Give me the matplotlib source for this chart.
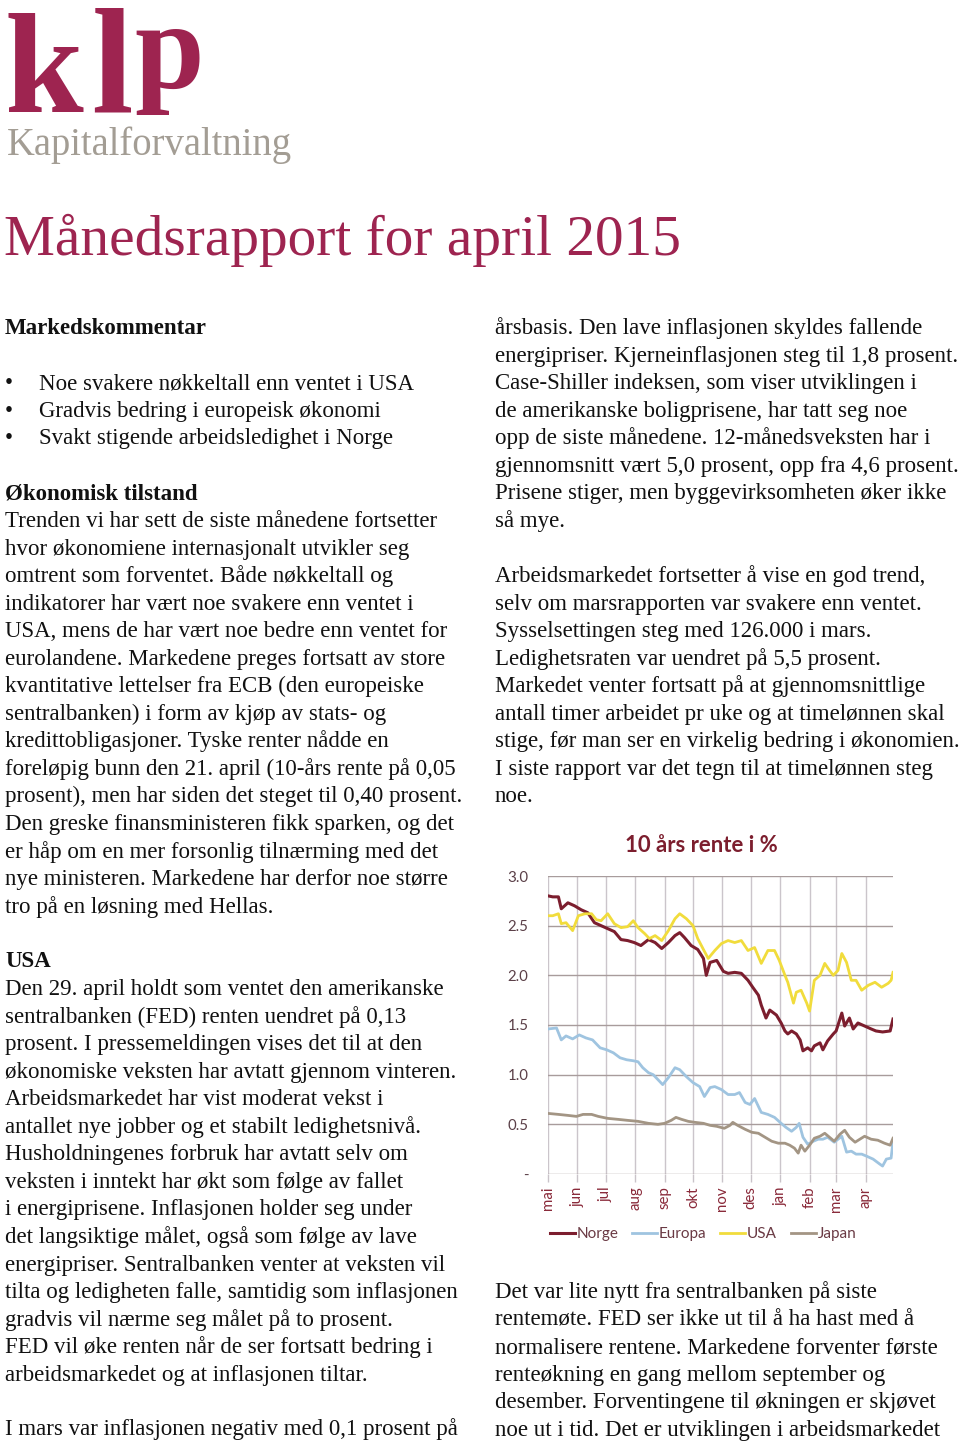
import numpy as np
import pandas as pd
import matplotlib
matplotlib.use("Agg")
import matplotlib.pyplot as plt

# ---- chart data, days counted from 1 May 2014 ----
norge_day = [0, 5, 11, 14, 21, 28, 35, 42, 49, 56, 63, 70, 77, 84, 91, 98, 106, 113, 120, 127,
             134, 139, 144, 151, 158, 164, 167, 171, 178, 185, 190, 197, 204, 211, 216, 222, 225, 230, 234, 241,
             246, 250, 253, 257, 262, 266, 269, 274, 278, 281, 287, 290, 295, 301, 304, 310, 313, 318, 322, 327,
             334, 341, 346, 353, 361, 364]
norge_val = [2.80, 2.79, 2.79, 2.67, 2.73, 2.70, 2.66, 2.63, 2.53, 2.50, 2.47, 2.44, 2.36, 2.35, 2.33, 2.30, 2.36, 2.33, 2.27, 2.33,
             2.40, 2.43, 2.38, 2.30, 2.26, 2.17, 2.00, 2.13, 2.15, 2.04, 2.02, 2.03, 2.02, 1.95, 1.88, 1.80, 1.70, 1.57, 1.65, 1.60,
             1.52, 1.44, 1.41, 1.44, 1.41, 1.35, 1.24, 1.27, 1.24, 1.29, 1.32, 1.25, 1.34, 1.41, 1.44, 1.62, 1.49, 1.57, 1.46, 1.52,
             1.49, 1.46, 1.44, 1.43, 1.44, 1.56]

europa_day = [0, 9, 14, 19, 26, 33, 40, 47, 55, 62, 69, 76, 83, 90, 95, 100, 106, 111, 116, 121,
              127, 134, 139, 146, 153, 160, 165, 171, 176, 183, 190, 197, 202, 208, 213, 218, 225, 232, 239, 246,
              251, 257, 262, 265, 269, 274, 280, 285, 290, 295, 302, 310, 315, 320, 325, 331, 336, 343, 350, 353,
              357, 362, 364]
europa_val = [1.46, 1.47, 1.35, 1.39, 1.36, 1.40, 1.37, 1.35, 1.27, 1.25, 1.22, 1.17, 1.15, 1.14, 1.13, 1.07, 1.02, 1.00, 0.95, 0.90,
              0.97, 1.07, 1.05, 0.98, 0.92, 0.88, 0.78, 0.87, 0.88, 0.85, 0.80, 0.80, 0.82, 0.72, 0.70, 0.76, 0.62, 0.60, 0.57, 0.51,
              0.47, 0.43, 0.47, 0.51, 0.37, 0.30, 0.33, 0.35, 0.35, 0.37, 0.32, 0.38, 0.22, 0.23, 0.20, 0.20, 0.18, 0.15, 0.10, 0.08,
              0.15, 0.16, 0.33]

usa_day = [0, 5, 11, 14, 19, 26, 32, 39, 46, 51, 56, 63, 70, 77, 84, 90, 95, 102, 107, 113,
           120, 127, 134, 139, 146, 153, 158, 164, 169, 176, 183, 190, 197, 204, 211, 218, 225, 232, 239, 244,
           250, 253, 259, 262, 267, 273, 276, 281, 287, 292, 297, 301, 306, 310, 315, 320, 325, 331, 338, 345,
           352, 359, 362, 364]
usa_val = [2.60, 2.60, 2.62, 2.52, 2.53, 2.45, 2.60, 2.62, 2.62, 2.56, 2.55, 2.62, 2.52, 2.48, 2.49, 2.55, 2.48, 2.42, 2.37, 2.40,
           2.35, 2.45, 2.57, 2.62, 2.57, 2.50, 2.37, 2.26, 2.17, 2.25, 2.32, 2.35, 2.33, 2.35, 2.25, 2.28, 2.12, 2.25, 2.25, 2.15,
           2.00, 1.93, 1.72, 1.83, 1.85, 1.72, 1.64, 1.95, 2.00, 2.12, 2.05, 2.00, 2.05, 2.22, 2.13, 1.95, 1.95, 1.85, 1.90, 1.93,
           1.88, 1.92, 1.95, 2.03]

japan_day = [0, 11, 21, 30, 37, 46, 53, 63, 74, 84, 95, 106, 116, 123, 130, 135, 141, 148, 155, 164,
             171, 178, 186, 192, 195, 200, 208, 215, 222, 229, 236, 243, 250, 255, 260, 264, 267, 271, 276, 281,
             287, 292, 297, 302, 308, 313, 318, 324, 329, 334, 341, 348, 355, 361, 364]
japan_val = [0.61, 0.60, 0.59, 0.58, 0.60, 0.60, 0.58, 0.56, 0.55, 0.54, 0.53, 0.51, 0.50, 0.51, 0.54, 0.57, 0.55, 0.53, 0.52, 0.51,
             0.49, 0.48, 0.46, 0.49, 0.52, 0.49, 0.45, 0.42, 0.41, 0.37, 0.33, 0.31, 0.31, 0.29, 0.26, 0.21, 0.29, 0.23, 0.29, 0.36,
             0.38, 0.41, 0.37, 0.33, 0.40, 0.44, 0.37, 0.32, 0.35, 0.38, 0.35, 0.34, 0.31, 0.29, 0.36]

month_labels = ["mai", "jun", "jul", "aug", "sep", "okt", "nov", "des", "jan", "feb", "mar", "apr"]
y_ticks = [0, 0.5, 1.0, 1.5, 2.0, 2.5, 3.0]
y_labels = ["-", "0.5", "1.0", "1.5", "2.0", "2.5", "3.0"]

# ---- page text ----
bullets = ["Noe svakere nøkkeltall enn ventet i USA",
           "Gradvis bedring i europeisk økonomi",
           "Svakt stigende arbeidsledighet i Norge"]

okonomi = ["Trenden vi har sett de siste månedene fortsetter",
           "hvor økonomiene internasjonalt utvikler seg",
           "omtrent som forventet. Både nøkkeltall og",
           "indikatorer har vært noe svakere enn ventet i",
           "USA, mens de har vært noe bedre enn ventet for",
           "eurolandene. Markedene preges fortsatt av store",
           "kvantitative lettelser fra ECB (den europeiske",
           "sentralbanken) i form av kjøp av stats- og",
           "kredittobligasjoner. Tyske renter nådde en",
           "foreløpig bunn den 21. april (10-års rente på 0,05",
           "prosent), men har siden det steget til 0,40 prosent.",
           "Den greske finansministeren fikk sparken, og det",
           "er håp om en mer forsonlig tilnærming med det",
           "nye ministeren. Markedene har derfor noe større",
           "tro på en løsning med Hellas."]

usa = ["Den 29. april holdt som ventet den amerikanske",
       "sentralbanken (FED) renten uendret på 0,13",
       "prosent. I pressemeldingen vises det til at den",
       "økonomiske veksten har avtatt gjennom vinteren.",
       "Arbeidsmarkedet har vist moderat vekst i",
       "antallet nye jobber og et stabilt ledighetsnivå.",
       "Husholdningenes forbruk har avtatt selv om",
       "veksten i inntekt har økt som følge av fallet",
       "i energiprisene. Inflasjonen holder seg under",
       "det langsiktige målet, også som følge av lave",
       "energipriser. Sentralbanken venter at veksten vil",
       "tilta og ledigheten falle, samtidig som inflasjonen",
       "gradvis vil nærme seg målet på to prosent.",
       "FED vil øke renten når de ser fortsatt bedring i",
       "arbeidsmarkedet og at inflasjonen tiltar."]

right_top = ["årsbasis. Den lave inflasjonen skyldes fallende",
             "energipriser. Kjerneinflasjonen steg til 1,8 prosent.",
             "Case-Shiller indeksen, som viser utviklingen i",
             "de amerikanske boligprisene, har tatt seg noe",
             "opp de siste månedene. 12-månedsveksten har i",
             "gjennomsnitt vært 5,0 prosent, opp fra 4,6 prosent.",
             "Prisene stiger, men byggevirksomheten øker ikke",
             "så mye."]

right_mid = ["Arbeidsmarkedet fortsetter å vise en god trend,",
             "selv om marsrapporten var svakere enn ventet.",
             "Sysselsettingen steg med 126.000 i mars.",
             "Ledighetsraten var uendret på 5,5 prosent.",
             "Markedet venter fortsatt på at gjennomsnittlige",
             "antall timer arbeidet pr uke og at timelønnen skal",
             "stige, før man ser en virkelig bedring i økonomien.",
             "I siste rapport var det tegn til at timelønnen steg",
             "noe."]

right_bottom = ["Det var lite nytt fra sentralbanken på siste",
                "rentemøte. FED ser ikke ut til å ha hast med å",
                "normalisere rentene. Markedene forventer første",
                "renteøkning en gang mellom september og",
                "desember. Forventingene til økningen er skjøvet",
                "noe ut i tid. Det er utviklingen i arbeidsmarkedet"]

W, H = 960, 1445
MAROON = "#9e2450"
serif = "Liberation Serif"
body_size = 16.5
step = 27.55

fig = plt.figure(figsize=(W / 100, H / 100), dpi=100)
fig.patch.set_facecolor("white")


def put(x, y, s, **kw):
    # x, y in pixels, y from the top; y is the middle of the text line
    kw.setdefault("family", serif)
    kw.setdefault("fontsize", body_size)
    kw.setdefault("color", "#111111")
    kw.setdefault("va", "baseline")
    fig.text(x / W, 1 - (y + 7) / H, s, **kw)


def block(x, y0, lines, **kw):
    for i, s in enumerate(lines):
        put(x, y0 + i * step, s, **kw)


# logo
logo_kw = dict(family=serif, color=MAROON, weight="bold", va="baseline")
fig.text(5 / W, 1 - 112 / H, "k", fontsize=102, **logo_kw)
fig.text(91 / W, 1 - 112 / H, "l", fontsize=108, **logo_kw)
fig.text(134 / W, 1 - 88 / H, "p", fontsize=90, **logo_kw)
fig.text(7 / W, 1 - 155 / H, "Kapitalforvaltning", family=serif, fontsize=27.8,
         color="#a39d94", va="baseline")

# title
fig.text(4 / W, 1 - 255 / H, "Månedsrapport for april 2015", family=serif,
         fontsize=41.3, color=MAROON, va="baseline")

# left column
put(5, 327, "Markedskommentar", weight="bold")
for i, s in enumerate(bullets):
    put(5, 382 + i * step, "•")
    put(39, 382 + i * step, s)
put(5, 492, "Økonomisk tilstand", weight="bold")
block(5, 520, okonomi)
put(5, 960, "USA", weight="bold")
block(5, 988, usa)
put(5, 1428, "I mars var inflasjonen negativ med 0,1 prosent på")

# right column
block(495, 327, right_top)
block(495, 575, right_mid)
block(495, 1291, right_bottom)

# ---- chart ----
ax_left, ax_right, ax_top, ax_bottom = 548, 893, 876, 1174
ax = fig.add_axes([ax_left / W, 1 - ax_bottom / H, (ax_right - ax_left) / W, (ax_bottom - ax_top) / H])

start = np.datetime64("2014-05-01")
series = [("Norge", norge_day, norge_val, "#7c1e2e", 2.2),
          ("Europa", europa_day, europa_val, "#9fc4e0", 2.0),
          ("USA", usa_day, usa_val, "#f1dc3c", 2.0),
          ("Japan", japan_day, japan_val, "#a39584", 2.0)]
for name, d, v, c, lw in series:
    ax.plot(start + np.array(d).astype("timedelta64[D]"), v, color=c, lw=lw, label=name)

months = pd.date_range("2014-05-01", "2015-04-01", freq="MS")
ax.set_xlim(start, np.datetime64("2015-04-30"))
ax.set_ylim(0, 3.0)
ax.set_xticks(months)
ax.set_xticklabels(month_labels, rotation=90, fontsize=10.8, color="#8a2a3a", family="Lato")
ax.set_yticks(y_ticks)
ax.set_yticklabels(y_labels, fontsize=10.8, color="#5b4048", family="Lato")
ax.tick_params(axis="y", length=0, pad=14)
ax.tick_params(axis="x", length=6, color="#c9c3c9", width=1, pad=3)
for s in ax.spines.values():
    s.set_visible(False)
ax.grid(axis="y", color="#a89c9c", lw=1)
ax.grid(axis="x", color="#cbc5cb", lw=1)
ax.set_axisbelow(True)

fig.text(701 / W, 1 - 845 / H, "10 års rente i %", family="Lato", weight="bold",
         fontsize=15.9, color="#7c1e2e", ha="center", va="center")

leg = ax.legend(loc="center", bbox_to_anchor=((703 - ax_left) / (ax_right - ax_left),
                                              -(1234 - ax_bottom) / (ax_bottom - ax_top)),
                ncol=4, frameon=False, handlelength=1.65, handletextpad=0.1, columnspacing=0.9,
                prop={"family": "Lato", "size": 11})
for t in leg.get_texts():
    t.set_color("#6a3a44")

fig.savefig("out.png", dpi=100)
